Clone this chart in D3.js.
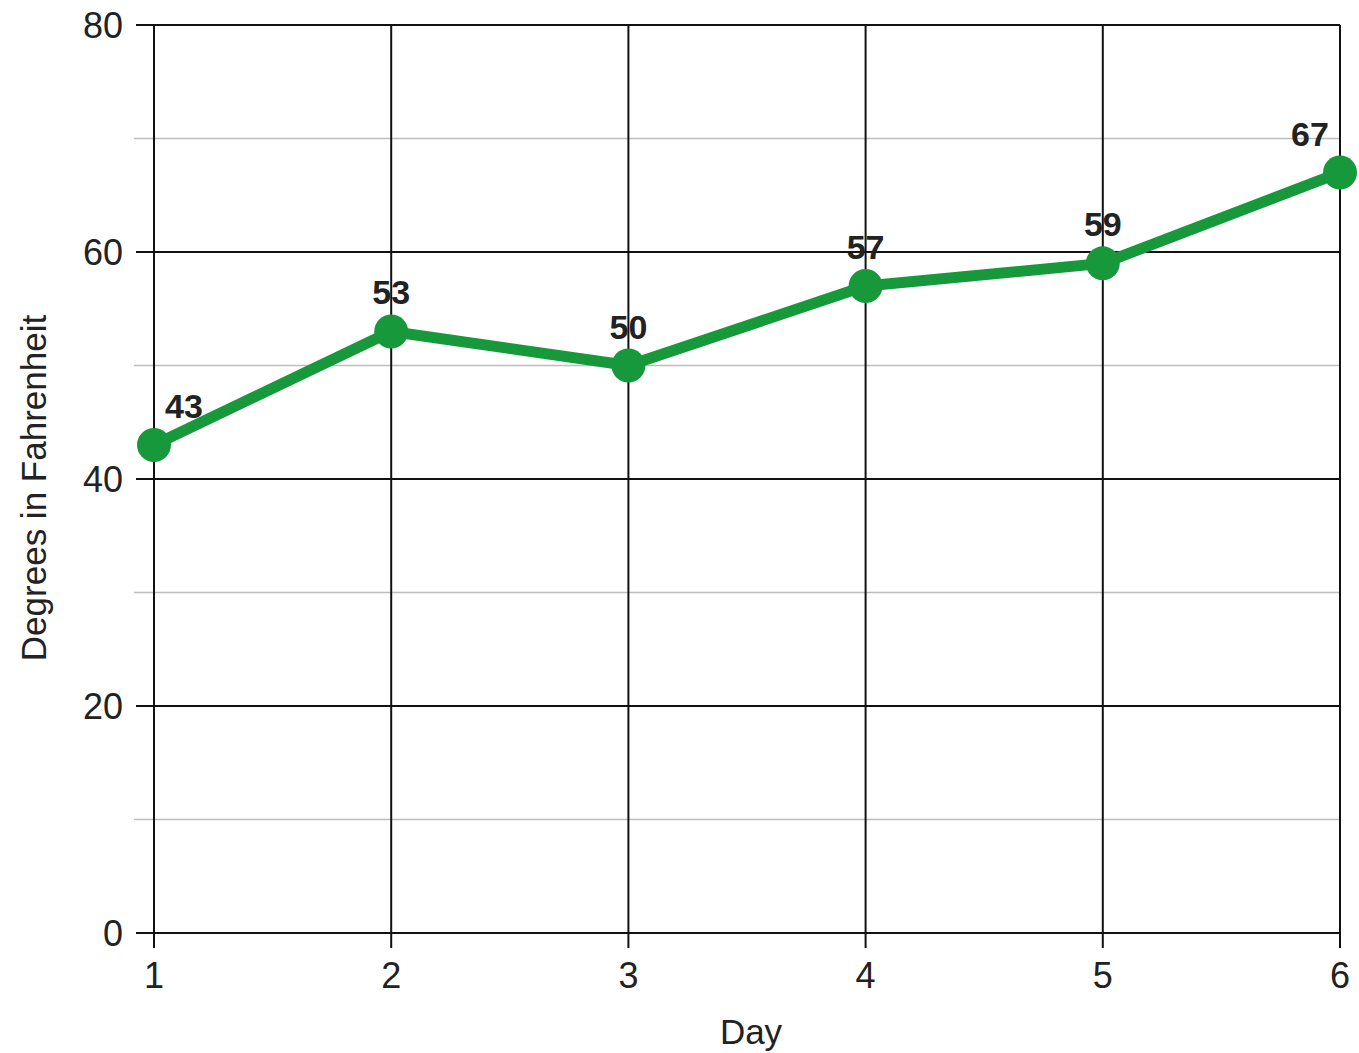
<!DOCTYPE html>
<html><head><meta charset="utf-8">
<script src="https://cdn.jsdelivr.net/npm/d3@7"></script>
<style>body{margin:0;background:#fff}svg{display:block}text{font-family:"Liberation Sans",Arial,sans-serif}</style>
</head><body>
<svg id="chart" width="1359" height="1053"></svg>
<script>
const days = [1, 2, 3, 4, 5, 6];
const temps = [43, 53, 50, 57, 59, 67];
const yMajorTicks = [0, 20, 40, 60, 80];
const yMinorTicks = [10, 30, 50, 70];
const xLabel = "Day";
const yLabel = "Degrees in Fahrenheit";

(function () {
const svg = d3.select("#chart");
const pL = 154, pR = 1340, pT = 25, pB = 933;
const x = d3.scaleLinear().domain([1, 6]).range([pL, pR]);
const y = d3.scaleLinear().domain([0, 80]).range([pB, pT]);
const green = "#17993b";

// minor gridlines
svg.append("g").selectAll("line").data(yMinorTicks).join("line")
  .attr("x1", pL - 20).attr("x2", pR)
  .attr("y1", d => y(d)).attr("y2", d => y(d))
  .attr("stroke", "#bdbdbd").attr("stroke-width", 1.5);

// major horizontal gridlines
svg.append("g").selectAll("line").data(yMajorTicks).join("line")
  .attr("x1", pL - 18).attr("x2", pR)
  .attr("y1", d => y(d)).attr("y2", d => y(d))
  .attr("stroke", "#111").attr("stroke-width", 2);

// vertical gridlines
svg.append("g").selectAll("line").data(days).join("line")
  .attr("x1", d => x(d)).attr("x2", d => x(d))
  .attr("y1", pT).attr("y2", pB + 15)
  .attr("stroke", "#111").attr("stroke-width", 2);

// y tick labels
svg.append("g").selectAll("text").data(yMajorTicks).join("text")
  .attr("x", 123).attr("y", d => y(d)).attr("dy", "0.36em")
  .attr("text-anchor", "end").attr("font-size", 36).attr("fill", "#222")
  .text(d => d);

// x tick labels
svg.append("g").selectAll("text").data(days).join("text")
  .attr("x", d => x(d)).attr("y", 988)
  .attr("text-anchor", "middle").attr("font-size", 36).attr("fill", "#222")
  .text(d => d);

// axis titles
svg.append("text").attr("x", 751).attr("y", 1044).attr("text-anchor", "middle")
  .attr("font-size", 35).attr("fill", "#222").text(xLabel);
svg.append("text").attr("transform", "translate(46,488) rotate(-90)")
  .attr("text-anchor", "middle").attr("font-size", 35).attr("fill", "#222").text(yLabel);

const data = days.map((d, i) => ({day: d, t: temps[i]}));

// line
svg.append("path").datum(data)
  .attr("fill", "none").attr("stroke", green).attr("stroke-width", 11)
  .attr("stroke-linejoin", "round")
  .attr("d", d3.line().x(d => x(d.day)).y(d => y(d.t)));

// points
svg.append("g").selectAll("circle").data(data).join("circle")
  .attr("cx", d => x(d.day)).attr("cy", d => y(d.t)).attr("r", 17)
  .attr("fill", green);

// value labels
svg.append("g").selectAll("text").data(data).join("text")
  .attr("x", (d, i) => x(d.day) + (i === 0 ? 30 : i === data.length - 1 ? -30 : 0))
  .attr("y", d => y(d.t) - 27)
  .attr("text-anchor", "middle").attr("font-size", 34).attr("font-weight", "bold")
  .attr("fill", "#222")
  .text(d => d.t);
})();
</script>
</body></html>
